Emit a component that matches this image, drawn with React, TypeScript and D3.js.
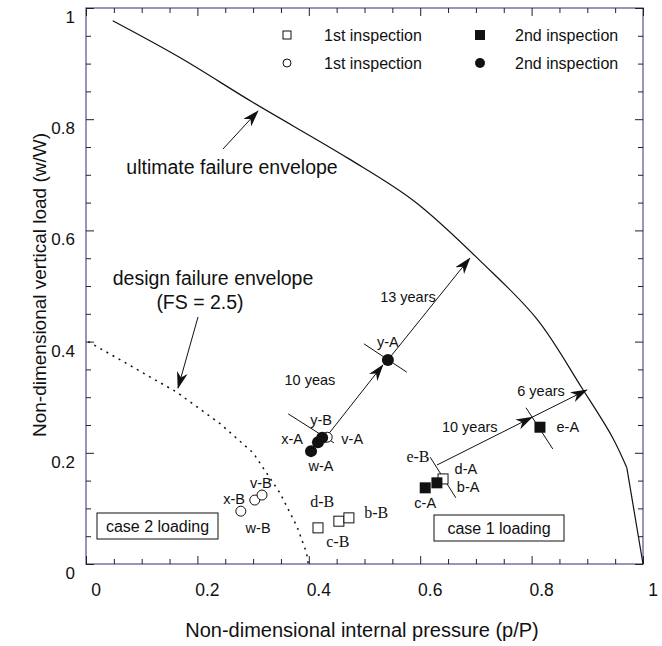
import React, { useEffect, useRef } from 'react';
import * as d3 from 'd3';

// envelopes, [p/P, w/W]
const ultimateEnvelope = [
	[0.048, 0.977], [0.17, 0.91], [0.3, 0.83], [0.47, 0.73], [0.59, 0.652],
	[0.71, 0.543], [0.81, 0.44], [0.89, 0.317], [0.945, 0.228], [0.971, 0.173],
];
const ultimateTail = [[0.971, 0.173], [1.0, 0]];
const designEnvelope = [
	[0.004, 0.4], [0.163, 0.309], [0.24, 0.253], [0.3, 0.2], [0.348, 0.128],
	[0.379, 0.067], [0.396, 0.02], [0.399, 0],
];

// inspections
const firstSquares = [[0.4165, 0.065], [0.454, 0.077], [0.472, 0.083], [0.641, 0.153]];
const firstCircles = [[0.278, 0.095], [0.303, 0.115], [0.316, 0.124], [0.433, 0.228]];
const secondSquares = [[0.609, 0.137], [0.63, 0.146], [0.815, 0.246]];
const secondCircles = [[0.404, 0.203], [0.4165, 0.219], [0.424, 0.227], [0.542, 0.367]];

// name, p, w, serif
const pointLabels = [
	['d-B', 0.424, 0.112, true], ['b-B', 0.521, 0.092, true], ['c-B', 0.452, 0.04, true],
	['e-B', 0.596, 0.192, true],
	['x-B', 0.266, 0.117, false], ['v-B', 0.314, 0.146, false], ['w-B', 0.309, 0.065, false],
	['y-B', 0.422, 0.259, false], ['x-A', 0.37, 0.225, false], ['v-A', 0.478, 0.225, false],
	['w-A', 0.422, 0.176, false], ['y-A', 0.542, 0.399, false], ['d-A', 0.682, 0.171, false],
	['b-A', 0.686, 0.138, false], ['c-A', 0.609, 0.11, false], ['e-A', 0.865, 0.246, false],
];

// growth arrows [from, to]
const growthArrows = [
	[[0.434, 0.232], [0.533, 0.358]],
	[[0.542, 0.367], [0.689, 0.55]],
	[[0.63, 0.178], [0.801, 0.264]],
	[[0.801, 0.264], [0.899, 0.313]],
];
const growthLabels = [
	['10 yeas', 0.402, 0.331], ['13 years', 0.578, 0.48], ['10 years', 0.689, 0.246], ['6 years', 0.817, 0.311],
];
// short cross lines through the inspected points
const crossLines = [
	[[0.499, 0.396], [0.576, 0.345]],
	[[0.363, 0.27], [0.445, 0.218]],
	[[0.79, 0.281], [0.838, 0.207]],
	[[0.618, 0.192], [0.664, 0.119]],
];

const majorTicks = [0, 0.2, 0.4, 0.6, 0.8, 1];
const minorTicks = d3.range(0, 21).map(i => i * 0.05).filter(v => Math.round(v * 100) % 20 !== 0);
const tickLabels = ['0', '0.2', '0.4', '0.6', '0.8', '1'];

const width = 662;
const height = 646;
const x = d3.scaleLinear().domain([0, 1]).range([86, 643]);
const y = d3.scaleLinear().domain([0, 1]).range([564, 8]);

const sans = 'Liberation Sans, Arial, Helvetica, sans-serif';
const serif = 'Liberation Serif, Times New Roman, serif';

export default function App() {
	const axesRef = useRef<SVGGElement>(null);

	useEffect(() => {
		const g = d3.select(axesRef.current);
		g.selectAll('*').remove();
		const sides: [any, string][] = [
			[d3.axisBottom(x), `translate(0,${y(0)})`],
			[d3.axisTop(x), `translate(0,${y(1)})`],
			[d3.axisLeft(y), `translate(${x(0)},0)`],
			[d3.axisRight(y), `translate(${x(1)},0)`],
		];
		sides.forEach(([axis, tr]) => {
			[[minorTicks, 5], [majorTicks, 8]].forEach(([vals, size]: any) => {
				const a = g.append('g').attr('transform', tr)
					.call(axis.tickValues(vals).tickSize(-size).tickFormat(() => ''));
				a.select('.domain').remove();
				a.selectAll('line').attr('stroke', '#222').attr('stroke-width', 1);
			});
		});
	}, []);

	const line = d3.line().x(d => x(d[0])).y(d => y(d[1]));
	const smooth = d3.line().x(d => x(d[0])).y(d => y(d[1])).curve(d3.curveCatmullRom);

	return (
		<div style={{ position: 'absolute', left: 0, top: 0 }}>
			<svg width={width} height={height} style={{ display: 'block', background: '#fff' }}>
				<defs>
					<marker id="arr" viewBox="0 0 17 11" refX="16" refY="5.5" markerWidth="17" markerHeight="11"
						markerUnits="userSpaceOnUse" orient="auto">
						<path d="M0,0 L17,5.5 L0,11 L5,5.5 Z" fill="#111" />
					</marker>
				</defs>

				<rect x={x(0)} y={y(1)} width={x(1) - x(0)} height={y(0) - y(1)} fill="none" stroke="#7474a8" strokeWidth={1.5} />
				<g ref={axesRef} />

				{/* tick labels */}
				{majorTicks.map((v, i) => (
					<text key={'xl' + i} x={x(v) + 10} y={596} textAnchor="middle" fontFamily={sans} fontSize={17.5} fill="#111">{tickLabels[i]}</text>
				))}
				{majorTicks.map((v, i) => (
					<text key={'yl' + i} x={75} y={y(v) + 15} textAnchor="end" fontFamily={sans} fontSize={17} fill="#111">{tickLabels[i]}</text>
				))}
				<text x={362} y={637} textAnchor="middle" fontFamily={sans} fontSize={20} fill="#111">Non-dimensional internal pressure (p/P)</text>
				<text transform="translate(46,285) rotate(-90)" textAnchor="middle" fontFamily={sans} fontSize={19} fill="#111">Non-dimensional vertical load (w/W)</text>

				{/* envelopes */}
				<path d={smooth(ultimateEnvelope as any) || ''} fill="none" stroke="#111" strokeWidth={1.2} />
				<path d={line(ultimateTail as any) || ''} fill="none" stroke="#111" strokeWidth={1.2} />
				<path d={line(designEnvelope as any) || ''} fill="none" stroke="#111" strokeWidth={1.5} strokeDasharray="2,5" />

				{/* annotations */}
				<text x={232} y={174} textAnchor="middle" fontFamily={sans} fontSize={19.5} fill="#111">ultimate failure envelope</text>
				<line x1={223} y1={149} x2={258} y2={111} stroke="#111" strokeWidth={1} markerEnd="url(#arr)" />
				<text x={213} y={285} textAnchor="middle" fontFamily={sans} fontSize={19.5} fill="#111">design failure envelope</text>
				<text x={200} y={309} textAnchor="middle" fontFamily={sans} fontSize={19.5} fill="#111">(FS = 2.5)</text>
				<line x1={198} y1={317} x2={178} y2={388} stroke="#111" strokeWidth={1} markerEnd="url(#arr)" />

				{/* growth */}
				{crossLines.map((d, i) => (
					<path key={'c' + i} d={line(d as any) || ''} stroke="#111" strokeWidth={1} />
				))}
				{growthArrows.map((d, i) => (
					<line key={'a' + i} x1={x(d[0][0])} y1={y(d[0][1])} x2={x(d[1][0])} y2={y(d[1][1])}
						stroke="#111" strokeWidth={1} markerEnd="url(#arr)" />
				))}
				{growthLabels.map(([t, p, w], i) => (
					<text key={'g' + i} x={x(p as number)} y={y(w as number) + 5} textAnchor="middle" fontFamily={sans} fontSize={14.5} fill="#111">{t}</text>
				))}

				{/* markers */}
				{firstSquares.map((d, i) => (
					<rect key={'fs' + i} x={x(d[0]) - 5} y={y(d[1]) - 5} width={10} height={10} fill="#fff" stroke="#111" strokeWidth={1} />
				))}
				{firstCircles.map((d, i) => (
					<circle key={'fc' + i} cx={x(d[0])} cy={y(d[1])} r={5} fill="#fff" stroke="#111" strokeWidth={1} />
				))}
				{secondSquares.map((d, i) => (
					<rect key={'ss' + i} x={x(d[0]) - 5.5} y={y(d[1]) - 5.5} width={11} height={11} fill="#111" />
				))}
				{secondCircles.map((d, i) => (
					<circle key={'sc' + i} cx={x(d[0])} cy={y(d[1])} r={6} fill="#111" />
				))}
				{pointLabels.map(([t, p, w, s], i) => (
					<text key={'pl' + i} x={x(p as number)} y={y(w as number) + 5} textAnchor="middle"
						fontFamily={s ? serif : sans} fontSize={s ? 16 : 14.5} fill="#111">{t}</text>
				))}

				{/* loading cases */}
				<rect x={97} y={513} width={121} height={26} fill="#fff" stroke="#111" strokeWidth={1} />
				<text x={157.5} y={532} textAnchor="middle" fontFamily={sans} fontSize={16} fill="#111">case 2 loading</text>
				<rect x={434} y={515} width={130} height={26} fill="#fff" stroke="#111" strokeWidth={1} />
				<text x={499} y={534} textAnchor="middle" fontFamily={sans} fontSize={16} fill="#111">case 1 loading</text>

				{/* legend */}
				<rect x={283} y={31} width={8} height={8} fill="#fff" stroke="#111" strokeWidth={1} />
				<circle cx={287} cy={63} r={4} fill="#fff" stroke="#111" strokeWidth={1} />
				<rect x={475} y={30} width={10} height={10} fill="#111" />
				<circle cx={480} cy={63} r={5} fill="#111" />
				<text x={324} y={41} fontFamily={sans} fontSize={16} fill="#111">1st inspection</text>
				<text x={324} y={69} fontFamily={sans} fontSize={16} fill="#111">1st inspection</text>
				<text x={515} y={41} fontFamily={sans} fontSize={16} fill="#111">2nd inspection</text>
				<text x={515} y={69} fontFamily={sans} fontSize={16} fill="#111">2nd inspection</text>
			</svg>
		</div>
	);
}
